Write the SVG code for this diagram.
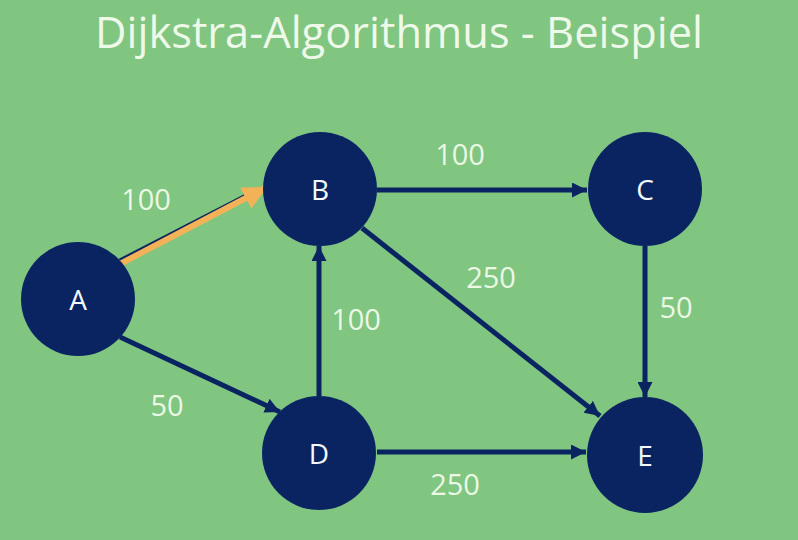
<svg xmlns="http://www.w3.org/2000/svg" width="798" height="540" viewBox="0 0 798 540">
<defs>
<style>
.node{fill:#0a2461;}
.nlabel{font-family:"Open Sans","Noto Sans",sans-serif;font-size:28px;fill:#f4f8ff;text-anchor:middle;dominant-baseline:central;}
.elabel{font-family:"Open Sans","Noto Sans",sans-serif;font-size:29px;fill:#eaf8e4;text-anchor:middle;dominant-baseline:central;}
.edge{stroke:#0a2461;stroke-width:5;fill:none;}
.hl{stroke:#f3b257;stroke-width:6;fill:none;}
.title{font-family:"Open Sans","Noto Sans",sans-serif;font-size:44px;fill:#eef9e9;text-anchor:middle;}
</style>
<marker id="ah" viewBox="0 0 10 10" refX="10" refY="5" markerWidth="3" markerHeight="3" orient="auto" markerUnits="strokeWidth">
<path d="M0,0 L10,5 L0,10 z" fill="#0a2461"/>
</marker>
<marker id="aho" viewBox="0 0 10 10" refX="10" refY="5" markerWidth="4" markerHeight="4" orient="auto" markerUnits="strokeWidth">
<path d="M0,0 L10,5 L0,10 z" fill="#f3b257"/>
</marker>
</defs>
<rect width="798" height="540" fill="#80c580"/>
<text class="title" x="399" y="48" textLength="608" lengthAdjust="spacingAndGlyphs">Dijkstra-Algorithmus - Beispiel</text>
<g id="connectors">
<line class="edge" x1="120" y1="261" x2="256" y2="191"/>
<line class="hl" x1="118" y1="265" x2="267" y2="187" marker-end="url(#aho)"/>
<line class="edge" x1="377" y1="190" x2="587" y2="190" marker-end="url(#ah)"/>
<line class="edge" x1="120" y1="337" x2="280" y2="412" marker-end="url(#ah)"/>
<line class="edge" x1="319" y1="396" x2="319" y2="246" marker-end="url(#ah)"/>
<line class="edge" x1="362" y1="228" x2="600" y2="416" marker-end="url(#ah)"/>
<line class="edge" x1="377" y1="452" x2="586" y2="452" marker-end="url(#ah)"/>
<line class="edge" x1="645" y1="246" x2="645" y2="397" marker-end="url(#ah)"/>
<text class="elabel" x="146" y="198">100</text>
<text class="elabel" x="460" y="153">100</text>
<text class="elabel" x="491" y="276">250</text>
<text class="elabel" x="676" y="306">50</text>
<text class="elabel" x="356" y="318">100</text>
<text class="elabel" x="167" y="404">50</text>
<text class="elabel" x="455" y="483">250</text>
</g>
<g id="node-A"><circle class="node" cx="78" cy="299" r="57"/><text class="nlabel" x="78" y="299">A</text></g>
<g id="node-B"><circle class="node" cx="320" cy="189" r="57"/><text class="nlabel" x="320" y="189">B</text></g>
<g id="node-C"><circle class="node" cx="645" cy="189" r="57"/><text class="nlabel" x="645" y="189">C</text></g>
<g id="node-D"><circle class="node" cx="319" cy="453" r="57"/><text class="nlabel" x="319" y="453">D</text></g>
<g id="node-E"><circle class="node" cx="645" cy="455" r="58"/><text class="nlabel" x="645" y="455">E</text></g>
</svg>
